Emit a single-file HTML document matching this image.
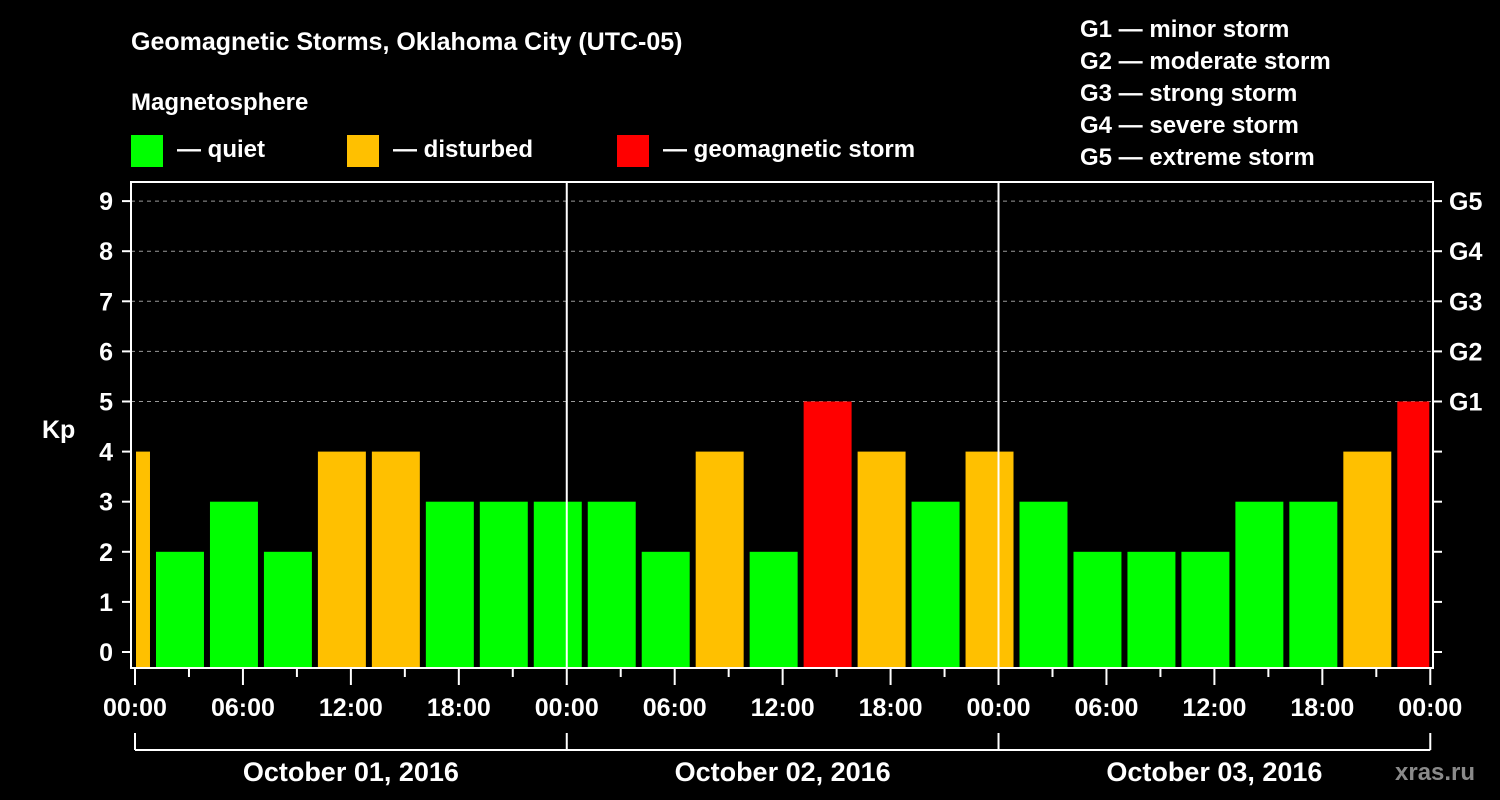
<!DOCTYPE html>
<html><head><meta charset="utf-8"><style>
html,body{margin:0;padding:0;background:#000;width:1500px;height:800px;overflow:hidden}
svg text{font-family:"Liberation Sans",Arial,sans-serif;font-weight:bold;fill:#fff}
</style></head><body>
<svg id="chart" width="1500" height="800" xmlns="http://www.w3.org/2000/svg">
<text x="131" y="50" font-size="25">Geomagnetic Storms, Oklahoma City (UTC-05)</text>
<text x="131" y="110" font-size="24">Magnetosphere</text>
<rect x="131" y="135" width="32" height="32" fill="#00ff00"/>
<text x="177" y="157" font-size="24">— quiet</text>
<rect x="347" y="135" width="32" height="32" fill="#ffc000"/>
<text x="393" y="157" font-size="24">— disturbed</text>
<rect x="617" y="135" width="32" height="32" fill="#ff0000"/>
<text x="663" y="157" font-size="24">— geomagnetic storm</text>
<g font-size="24">
<text x="1080" y="37">G1 — minor storm</text>
<text x="1080" y="69">G2 — moderate storm</text>
<text x="1080" y="101">G3 — strong storm</text>
<text x="1080" y="133">G4 — severe storm</text>
<text x="1080" y="165">G5 — extreme storm</text>
</g>
<text x="42" y="438" font-size="25">Kp</text>
<text x="1395" y="780" font-size="24" fill="#888" style="fill:#8a8a8a">xras.ru</text>
<g id="plot"></g>
</svg>
<script>
const kpValues=[4,2,3,2,4,4,3,3,3,3,2,4,2,5,4,3,4,3,2,2,2,3,3,4,5];
const startHour=-2;
const yTicks=[0,1,2,3,4,5,6,7,8,9];
const gLabels=["G1","G2","G3","G4","G5"];
const gLevels=[5,6,7,8,9];
const hourLabels=["00:00","06:00","12:00","18:00","00:00","06:00","12:00","18:00","00:00","06:00","12:00","18:00","00:00"];
const dayLabels=["October 01, 2016","October 02, 2016","October 03, 2016"];

const NS="http://www.w3.org/2000/svg";
const L=131,R=1433,T=182,B=668,X0=135,PX=17.99;
const xs=h=>X0+h*PX;
const ys=v=>652-v*50.1;
const g=document.getElementById('plot');
function mk(t,a,p){const e=document.createElementNS(NS,t);for(const k in a)e.setAttribute(k,a[k]);(p||g).appendChild(e);return e;}

// grid
gLevels.forEach(v=>{
 const ln=mk('line',{x1:L,x2:R,y1:ys(v),y2:ys(v),stroke:'#999','stroke-dasharray':'4,4','stroke-width':1});
 
 
});
// bars
kpValues.forEach((v,i)=>{
 let h0=startHour+i*3, h1=h0+3;
 let x0=xs(h0)+3, x1=xs(h1)-3;
 x0=Math.max(x0,xs(0)+1); x1=Math.min(x1,xs(72)-1);
 const c=v>=5?'#ff0000':(v>=4?'#ffc000':'#00ff00');
 const r=mk('rect',{x:x0,y:ys(v),width:x1-x0,height:B-ys(v),fill:c});
 
 
});
// day separators
[24,48].forEach(h=>{
 const ln=mk('line',{x1:xs(h),x2:xs(h),y1:T,y2:B,stroke:'#fff','stroke-width':2});
 
 
});
// frame
const fr=mk('rect',{x:L,y:T,width:R-L,height:B-T,fill:'none',stroke:'#fff','stroke-width':2});


// y ticks
yTicks.forEach(v=>{
 mk('line',{x1:122,x2:L,y1:ys(v),y2:ys(v),stroke:'#fff','stroke-width':2});
 mk('line',{x1:R,x2:R+9,y1:ys(v),y2:ys(v),stroke:'#fff','stroke-width':2});
 const t=mk('text',{x:113,y:ys(v)+9,'font-size':25,'text-anchor':'end'});
 t.textContent=v;
 
 
});
gLevels.forEach((v,i)=>{
 const t=mk('text',{x:1449,y:ys(v)+9,'font-size':25});
 t.textContent=gLabels[i];
 
 
});
// x ticks
for(let h=0;h<=72;h+=3){
 const major=h%6===0;
 mk('line',{x1:xs(h),x2:xs(h),y1:B,y2:major?685:677,stroke:'#fff','stroke-width':2});
}
hourLabels.forEach((s,i)=>{
 const t=mk('text',{x:xs(i*6),y:716,'font-size':25,'text-anchor':'middle'});
 t.textContent=s;
 
 
});
// day brackets
mk('line',{x1:xs(0),x2:xs(72),y1:750,y2:750,stroke:'#fff','stroke-width':2});
[0,24,48,72].forEach(h=>mk('line',{x1:xs(h),x2:xs(h),y1:733,y2:750,stroke:'#fff','stroke-width':2}));
dayLabels.forEach((s,i)=>{
 const t=mk('text',{x:xs(i*24+12),y:781,'font-size':27,'text-anchor':'middle'});
 t.textContent=s;
 
 
});
</script>
</body></html>
